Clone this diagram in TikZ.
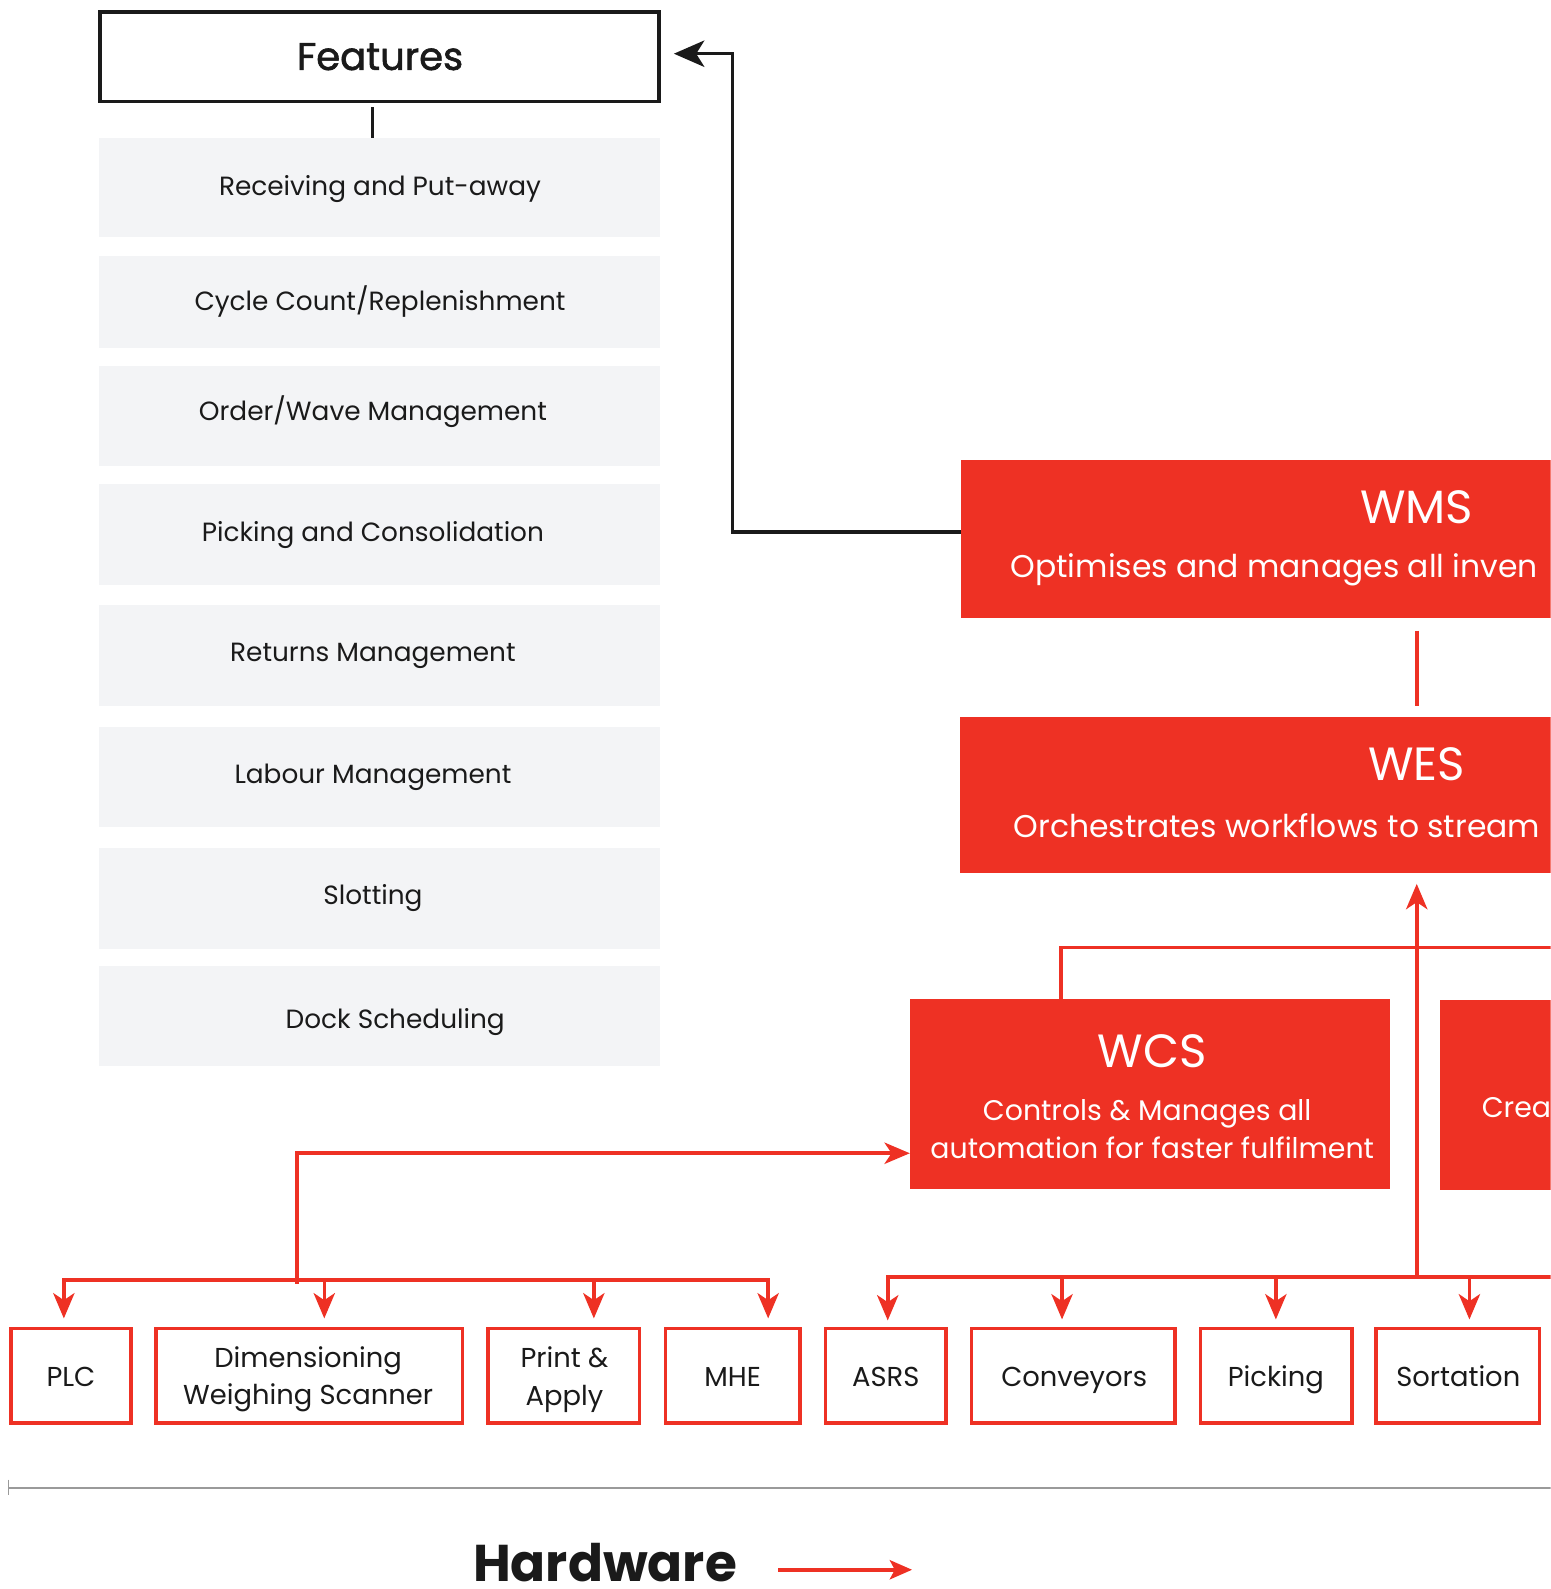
\documentclass[tikz,border=0pt]{standalone}
\usepackage{fontspec}
\setmainfont{Poppins}
\newfontfamily\popmed{Poppins}[FakeBold=1.6]
\usetikzlibrary{arrows.meta,calc}
\definecolor{redA}{HTML}{EE3124}
\definecolor{grayA}{HTML}{F3F4F6}
\definecolor{lineG}{HTML}{9A9A9A}
\definecolor{blk}{HTML}{1A1A1A}
\begin{document}
\begin{tikzpicture}[x=1pt,y=-1pt,
  gbox/.style={fill=grayA, draw=none, minimum width=553, inner sep=0pt},
  ftext/.style={font=\fontsize{26}{30}\selectfont, text=blk, anchor=base, inner sep=0pt},
  rbox/.style={fill=redA, draw=none, inner sep=0pt},
  rtitle/.style={font=\fontsize{46}{50}\selectfont, text=white, anchor=base, inner sep=0pt},
  rsub/.style={font=\fontsize{31}{37}\selectfont, text=white, anchor=base, inner sep=0pt},
  rsubs/.style={font=\fontsize{28}{37}\selectfont, text=white, anchor=base, inner sep=0pt},
  hbox/.style={draw=redA, line width=3.5pt, fill=white, minimum height=93.5, inner sep=0pt},
  htext/.style={font=\fontsize{27}{37}\selectfont, text=blk, anchor=base, inner sep=0pt},
  rline/.style={draw=redA, line width=3.5pt},
  rarrow/.style={rline, -{Stealth[length=25pt,width=21pt,inset=7pt]}},
  blkline/.style={draw=blk, line width=3.5pt},
]
\useasboundingbox (0,0) rectangle (1530,1568);
\clip (0,0) rectangle (1530,1568);

% Features column
\node[draw=blk, line width=3.5pt, minimum width=551.5, minimum height=88.5, inner sep=0pt] (features) at (374.5,56) {};
\node[font=\popmed\fontsize{38}{40}\selectfont, text=blk, anchor=base, inner sep=0pt] (featurest) at (375,69) {Features};

\node[gbox, minimum height=98] (f1) at (374.5,185) {};
\node[gbox, minimum height=90] (f2) at (374.5,298) {};
\node[gbox, minimum height=99] (f3) at (374.5,410.5) {};
\node[gbox, minimum height=99] (f4) at (374.5,527.5) {};
\node[gbox, minimum height=100] (f5) at (374.5,647) {};
\node[gbox, minimum height=99] (f6) at (374.5,766.5) {};
\node[gbox, minimum height=99] (f7) at (374.5,886.5) {};
\node[gbox, minimum height=99] (f8) at (374.5,1002.5) {};

\node[ftext] (f1t) at (375,193) {Receiving and Put-away};
\node[ftext] (f2t) at (375,306) {Cycle Count/Replenishment};
\node[ftext] (f3t) at (368,415) {Order/Wave Management};
\node[ftext] (f4t) at (368,534) {Picking and Consolidation};
\node[ftext] (f5t) at (368,653) {Returns Management};
\node[ftext] (f6t) at (368,773) {Labour Management};
\node[ftext] (f7t) at (368,893) {Slotting};
\node[ftext] (f8t) at (390,1015) {Dock Scheduling};

\coordinate (stubx) at (368,0);
\draw[blkline, line width=3pt, shorten <=4pt] (features.south -| stubx) -- (f1.north -| stubx);

% Software boxes
\node[rbox, minimum width=900, minimum height=156] (wms) at (1398,532) {};
\node[rtitle] (wmst) at (1398,517) {WMS};
\node[rsub, anchor=base west] (wmss) at (997,570) {Optimises and manages all inven};

\node[rbox, minimum width=902, minimum height=153] (wes) at (1398,784.5) {};
\node[rtitle] (west) at (1398,770) {WES};
\node[rsub, anchor=base west] (wess) at (1000,826) {Orchestrates workflows to stream};

\node[rbox, minimum width=474, minimum height=187] (wcs) at (1135,1079.5) {};
\node[rtitle] (wcst) at (1137,1053) {WCS};
\node[rsubs] (wcss1) at (1132,1106) {Controls \& Manages all};
\node[rsubs] (wcss2) at (1137,1143) {automation for faster fulfilment};

\node[rbox, minimum width=429, minimum height=187] (cre) at (1635.5,1080.5) {};
\node[rsubs, anchor=base west] (cret) at (1462,1103) {Crea};

% black connector WMS -> Features
\draw[blkline, -{Stealth[length=30pt,width=26pt,inset=8pt]}]
  ([yshift=7pt]wms.west) -- (723,525) |- ([xshift=13pt,yshift=3pt]features.east);

% WMS - WES
\draw[rline, shorten <=12pt, shorten >=11pt] (wms.south) -- (wes.north);

% WCS top connector
\coordinate (topright) at (1560,935);
\draw[rline] (wcs.north -| 1047,0) |- (topright);

% Hardware boxes
\node[hbox, minimum width=118.5] (plc) at (70,1357.5) {};
\node[hbox, minimum width=302.5] (dim) at (305,1357.5) {};
\node[hbox, minimum width=149.5] (pa) at (556.5,1357.5) {};
\node[hbox, minimum width=132.5] (mhe) at (723,1357.5) {};
\node[hbox, minimum width=118.5] (asrs) at (874,1357.5) {};
\node[hbox, minimum width=200.5] (conv) at (1059,1357.5) {};
\node[hbox, minimum width=149.5] (pick) at (1259.5,1357.5) {};
\node[hbox, minimum width=161.5] (sort) at (1438.5,1357.5) {};

\node[htext] (plct) at (70,1368) {PLC};
\node[htext] (dimt1) at (304,1349) {Dimensioning};
\node[htext] (dimt2) at (304,1386) {Weighing Scanner};
\node[htext] (pat1) at (557,1349) {Print \&};
\node[htext] (pat2) at (557,1387) {Apply};
\node[htext] (mhet) at (723,1368) {MHE};
\node[htext] (asrst) at (874,1368) {ASRS};
\node[htext] (convt) at (1060,1368) {Conveyors};
\node[htext] (pickt) at (1259,1368) {Picking};
\node[htext] (sortt) at (1439,1368) {Sortation};

% left bus
\coordinate (lbus) at (293,1263);
\draw[rarrow] (lbus) -- (63,1263) -- ([yshift=8pt]plc.north -| 63,0);
\draw[rarrow] (293,1263) -- (758,1263) -- ([yshift=8pt]mhe.north -| 758,0);
\draw[rarrow] (320,1263) -- ([yshift=8pt]dim.north -| 320,0);
\draw[rarrow] (586,1263) -- ([yshift=8pt]pa.north -| 586,0);
\draw[rarrow] (293,1267) -- (293,1138) -- (wcs.west |- 0,1138);

% right bus
\coordinate (rbus) at (1560,1260);
\draw[rarrow] (rbus) -- (876,1260) -- ([yshift=6pt]asrs.north -| 876,0);
\draw[rarrow] (1048,1260) -- ([yshift=7pt]conv.north -| 1048,0);
\draw[rarrow] (1259,1260) -- ([yshift=7pt]pick.north -| 1259,0);
\draw[rarrow] (1450,1260) -- ([yshift=7pt]sort.north -| 1450,0);
\draw[rarrow, shorten >=11pt] (1398,1260) -- (wes.south);

% axis
\coordinate (axl) at (8,1468);
\coordinate (axr) at (1560,1468);
\draw[lineG, line width=2pt] (axl) -- (axr);
\draw[lineG, line width=1pt] (8,1460) -- (8,1475);

\node[font=\bfseries\fontsize{51}{56}\selectfont, text=blk, anchor=base, inner sep=0pt] (hw) at (597,1561) {Hardware};
\coordinate (hwa1) at (768,1549);
\coordinate (hwa2) at (900,1549);
\draw[rline, -{Stealth[length=22pt,width=19pt,inset=5pt]}] (hwa1) -- (hwa2);
\end{tikzpicture}
\end{document}
